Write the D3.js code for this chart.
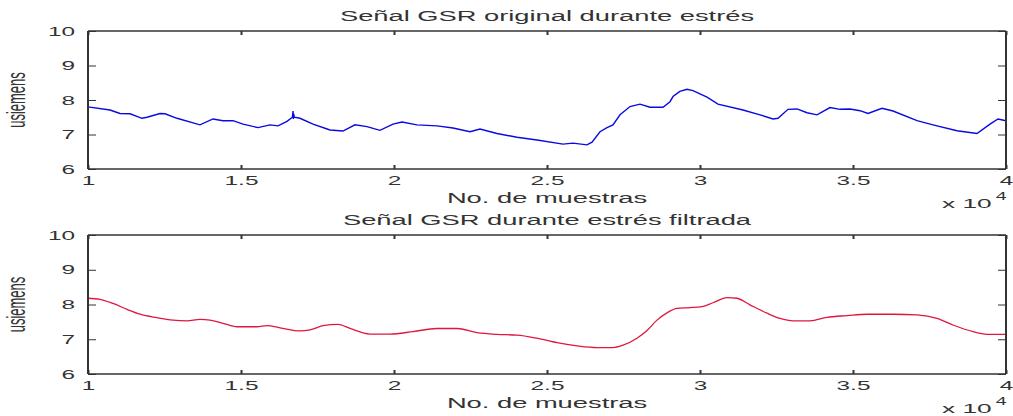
<!DOCTYPE html>
<html>
<head>
<meta charset="utf-8">
<script src="https://cdn.jsdelivr.net/npm/d3@7"></script>
<style>
  body { margin: 0; background: #fff; }
  text { font-family: "Liberation Sans", Arial, sans-serif; fill: #333; }
</style>
</head>
<body>
<div id="chart"></div>
<script>
// values
const xTicks = [10000, 15000, 20000, 25000, 30000, 35000, 40000];
const xTickLabels = ["1", "1.5", "2", "2.5", "3", "3.5", "4"];
const yTicks = [6, 7, 8, 9, 10];
const titles = ["Señal GSR original durante estrés", "Señal GSR durante estrés filtrada"];
const xLabel = "No. de muestras";
const yLabel = "usiemens";

const rawX = [10000,10719,11046,11373,11765,11928,12353,12516,12908,13660,14085,14412,14739,15065,15556,15948,16209,16503,16680,16700,16712,16725,16740,16928,17353,17908,18333,18725,19118,19542,19967,20261,20752,21405,21928,22484,22810,23366,24020,24673,25523,25850,26307,26471,26732,26961,27157,27386,27712,28039,28366,28791,29020,29118,29340,29575,29771,30229,30588,31405,31961,32386,32549,32876,33170,33497,33824,34248,34575,34902,35229,35490,35948,36307,37092,37614,38399,39052,39477,39739,40000];
const rawY = [7.80,7.71,7.61,7.60,7.47,7.50,7.61,7.60,7.47,7.28,7.45,7.40,7.40,7.30,7.20,7.28,7.25,7.38,7.50,7.68,7.45,7.60,7.50,7.47,7.30,7.13,7.10,7.28,7.23,7.12,7.30,7.36,7.28,7.25,7.19,7.08,7.16,7.03,6.92,6.84,6.72,6.75,6.70,6.78,7.08,7.20,7.28,7.57,7.81,7.88,7.79,7.79,7.95,8.10,8.25,8.31,8.27,8.08,7.88,7.71,7.57,7.45,7.47,7.73,7.74,7.63,7.57,7.78,7.73,7.74,7.69,7.61,7.76,7.68,7.40,7.28,7.11,7.03,7.30,7.45,7.40];

const filtX = [10000,10392,10817,11275,11699,12255,12778,13235,13660,13987,14412,14869,15523,15850,16275,16928,17255,17680,18170,18562,19216,19869,20621,21405,22059,22712,23366,24020,24673,25327,25980,26634,27157,27484,27941,28268,28595,28922,29248,29673,30065,30425,30882,31209,31634,32190,32614,33039,33595,34150,34804,35458,36307,37092,37745,38268,38922,39477,40000];
const filtY = [8.18,8.15,8.03,7.86,7.72,7.62,7.55,7.53,7.57,7.55,7.46,7.36,7.36,7.39,7.33,7.24,7.27,7.39,7.43,7.31,7.15,7.15,7.22,7.31,7.31,7.19,7.14,7.12,7.03,6.90,6.81,6.76,6.76,6.83,7.03,7.25,7.55,7.76,7.89,7.91,7.94,8.05,8.20,8.18,7.99,7.75,7.60,7.53,7.53,7.63,7.68,7.72,7.72,7.70,7.60,7.41,7.22,7.14,7.14];

var width = 1013, height = 416;
var sx = 1.95; // the picture is stretched sideways, so is the text
var left = 88, right = 1006;

var svg = d3.select("#chart")
  .append("svg")
    .attr("width", width)
    .attr("height", height);

var panels = [
  {top: 31, h: 138, xs: rawX, ys: rawY, color: "#0a0ae0", lw: 1.4, curve: d3.curveLinear},
  {top: 235, h: 139, xs: filtX, ys: filtY, color: "#e0173c", lw: 1.3, curve: d3.curveMonotoneX}
];

panels.forEach(function (p, k) {
  var g = svg.append("g").attr("transform", "translate(0," + p.top + ")");

  var x = d3.scaleLinear().domain([10000, 40000]).range([left, right]);
  var y = d3.scaleLinear().domain([6, 10]).range([p.h, 0]);

  var line = d3.line()
    .x(d => x(d[0]))
    .y(d => y(d[1]))
    .curve(p.curve);

  g.append("path")
    .attr("d", line(d3.zip(p.xs, p.ys)))
    .attr("fill", "none")
    .attr("stroke", p.color)
    .attr("stroke-width", p.lw);

  // axes, ticks pointing inwards
  var bottom = g.append("g")
    .attr("transform", "translate(0," + p.h + ")")
    .call(d3.axisBottom(x).tickValues(xTicks)
      .tickFormat((d, i) => xTickLabels[i]).tickSize(-4).tickPadding(7));
  var topAx = g.append("g")
    .call(d3.axisTop(x).tickValues(xTicks).tickFormat("").tickSize(-4));
  var leftAx = g.append("g")
    .attr("transform", "translate(" + left + ",0)")
    .call(d3.axisLeft(y).tickValues(yTicks).tickFormat(d3.format("d"))
      .tickSize(-8).tickPadding(13 / sx));
  var rightAx = g.append("g")
    .attr("transform", "translate(" + right + ",0)")
    .call(d3.axisRight(y).tickValues(yTicks).tickFormat("").tickSize(-8));

  [bottom, topAx, leftAx, rightAx].forEach(a => {
    a.select(".domain").remove();
    a.selectAll("line").attr("stroke", "#333");
    a.selectAll("text")
      .attr("transform", "scale(" + sx + ",1)")
      .style("font-size", "12.5px")
      .style("font-family", null);
  });
  bottom.selectAll("line").attr("stroke-width", 2);
  topAx.selectAll("line").attr("stroke-width", 2);

  // frame
  g.append("line").attr("x1", left).attr("x2", right).attr("y1", 0).attr("y2", 0)
    .attr("stroke", "#333").attr("stroke-width", 1.3);
  g.append("line").attr("x1", left).attr("x2", right).attr("y1", p.h).attr("y2", p.h)
    .attr("stroke", "#333").attr("stroke-width", 1.3);
  g.append("line").attr("x1", left).attr("x2", left).attr("y1", 0).attr("y2", p.h)
    .attr("stroke", "#333").attr("stroke-width", 2);
  g.append("line").attr("x1", right).attr("x2", right).attr("y1", 0).attr("y2", p.h)
    .attr("stroke", "#333").attr("stroke-width", 2);

  var mid = (left + right) / 2;

  g.append("text")
    .attr("transform", "translate(" + mid + ",-10) scale(" + sx + ",1)")
    .attr("text-anchor", "middle")
    .style("font-size", "14px")
    .text(titles[k]);

  g.append("text")
    .attr("transform", "translate(" + mid + "," + (p.h + 34) + ") scale(" + sx + ",1)")
    .attr("text-anchor", "middle")
    .style("font-size", "14px")
    .text(xLabel);

  g.append("text")
    .attr("transform", "translate(25," + (p.h / 2) + ") scale(" + sx + ",1) rotate(-90)")
    .attr("text-anchor", "middle")
    .style("font-size", "13px")
    .text(yLabel);

  var mult = g.append("text")
    .attr("transform", "translate(942," + (p.h + 38.5) + ") scale(" + sx + ",1)")
    .style("font-size", "13.5px");
  mult.append("tspan").text("x 10");
  mult.append("tspan").attr("dx", 2).attr("dy", -8).style("font-size", "10px").text("4");
});
</script>
</body>
</html>
